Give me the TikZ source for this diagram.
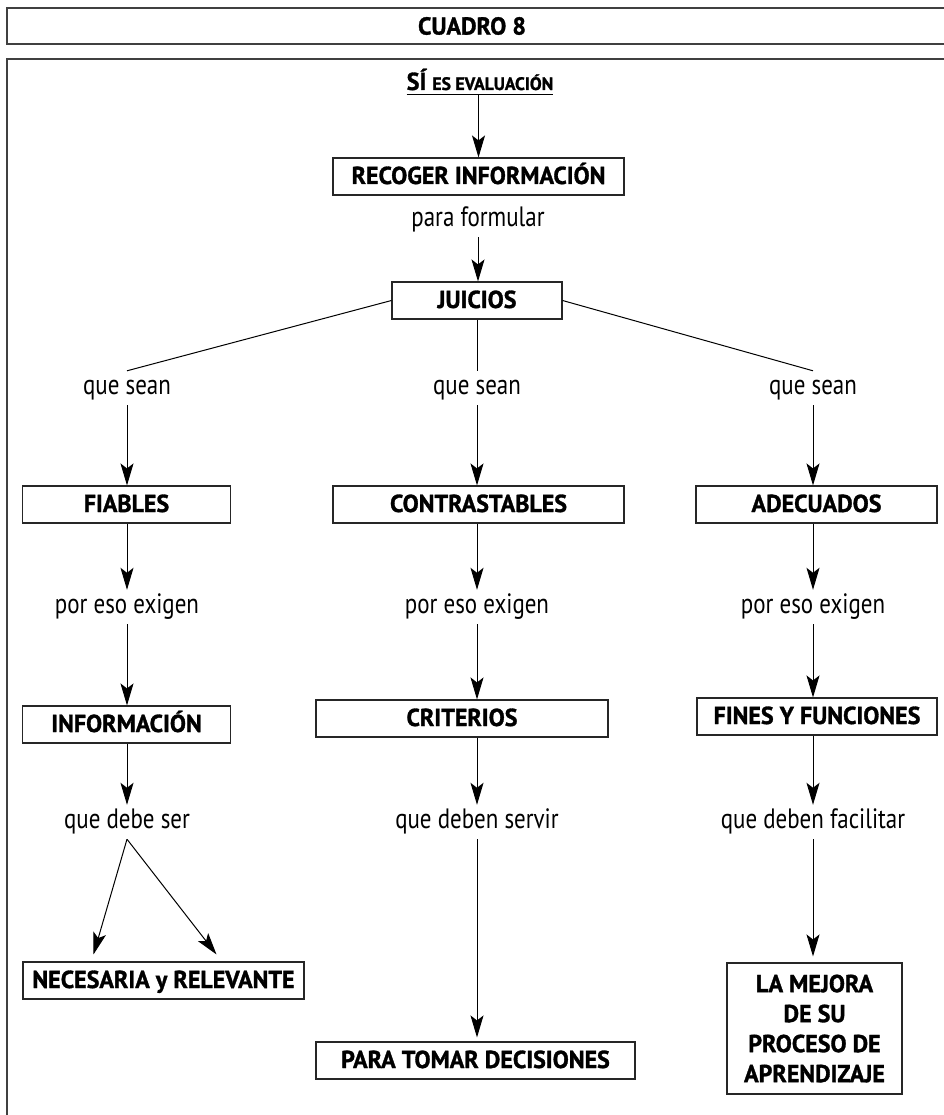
\documentclass[tikz,border=0pt]{standalone}
\usepackage{fontspec}
\setmainfont{PT Sans}[FakeStretch=0.82, BoldFeatures={FakeStretch=0.98, FakeBold=1.3}]
\usetikzlibrary{arrows.meta}

\tikzset{
  caja/.style={draw=black!85, line width=1.1pt, inner sep=0pt,
    font=\bfseries\fontsize{24.5}{30}\selectfont,
    text height=17pt, text depth=2pt, minimum height=37pt},
  etiqueta/.style={font=\fontsize{28}{30}\selectfont,
    inner xsep=2pt, inner ysep=6pt, text height=17pt, text depth=5pt},
  flecha/.style={-{Stealth[length=22pt,width=13pt,inset=5pt]}, line width=1pt},
  linea/.style={line width=1pt},
  marco/.style={draw=black!75, line width=1.3pt}
}

\begin{document}
\begin{tikzpicture}[x=1pt, y=-1pt]
  \useasboundingbox (0,0) rectangle (943,1115);

  % marcos
  \draw[marco] (7,8) rectangle (960,44);
  \draw[marco] (7,1130) -- (7,59) -- (960,59);
  \node[font=\bfseries\fontsize{24.5}{30}\selectfont] (cuadro) at (472,26) {CUADRO 8};

  % cabecera
  \node[anchor=base, inner sep=0pt, text depth=4pt,
        font=\bfseries\fontsize{24.5}{30}\selectfont] (titulo) at (480,90)
        {SÍ {\fontsize{18}{18}\selectfont ES EVALUACIÓN}};
  \draw[linea] (titulo.south west) -- (titulo.south east);

  \node[caja, minimum width=291pt] (recoger) at (478.5,176.5) {RECOGER INFORMACIÓN};
  \node[etiqueta] (para) at (478,220) {para formular};
  \node[caja, minimum width=170pt] (juicios) at (477,300.5) {JUICIOS};

  \draw[flecha] (recoger.north |- titulo.south) -- (recoger.north);
  \draw[flecha] (para.south) -- (para.south |- juicios.north);

  % que sean
  \node[etiqueta] (sean1) at (127,388) {que sean};
  \node[etiqueta] (sean2) at (477,388) {que sean};
  \node[etiqueta] (sean3) at (813,388) {que sean};
  \draw[linea] (juicios.west) -- (sean1.north);
  \draw[linea] (juicios.south) -- (sean2.north);
  \draw[linea] (juicios.east) -- (sean3.north);

  % primer nivel
  \node[caja, minimum width=208pt] (fiables) at (126.5,504.5) {FIABLES};
  \node[caja, minimum width=291pt] (contrast) at (478.5,504.5) {CONTRASTABLES};
  \node[caja, minimum width=241pt] (adecuados) at (816.5,504.5) {ADECUADOS};
  \draw[flecha] (sean1.south) -- (sean1.south |- fiables.north);
  \draw[flecha] (sean2.south) -- (sean2.south |- contrast.north);
  \draw[flecha] (sean3.south) -- (sean3.south |- adecuados.north);

  % por eso exigen
  \node[etiqueta] (exigen1) at (127,607) {por eso exigen};
  \node[etiqueta] (exigen2) at (477,607) {por eso exigen};
  \node[etiqueta] (exigen3) at (813,607) {por eso exigen};
  \draw[flecha] (exigen1.north |- fiables.south) -- (exigen1.north);
  \draw[flecha] (exigen2.north |- contrast.south) -- (exigen2.north);
  \draw[flecha] (exigen3.north |- adecuados.south) -- (exigen3.north);

  % segundo nivel
  \node[caja, minimum width=208pt] (informacion) at (126.5,724.5) {INFORMACIÓN};
  \node[caja, minimum width=292pt] (criterios) at (462,718.5) {CRITERIOS};
  \node[caja, minimum width=240pt] (fines) at (817,716.5) {FINES Y FUNCIONES};
  \draw[flecha] (exigen1.south) -- (exigen1.south |- informacion.north);
  \draw[flecha] (exigen2.south) -- (exigen2.south |- criterios.north);
  \draw[flecha] (exigen3.south) -- (exigen3.south |- fines.north);

  % que debe...
  \node[etiqueta] (debe1) at (127,822) {que debe ser};
  \node[etiqueta] (debe2) at (477,822) {que deben servir};
  \node[etiqueta] (debe3) at (813,822) {que deben facilitar};
  \draw[flecha] (debe1.north |- informacion.south) -- (debe1.north);
  \draw[flecha] (debe2.north |- criterios.south) -- (debe2.north);
  \draw[flecha] (debe3.north |- fines.south) -- (debe3.north);

  % tercer nivel
  \node[caja, minimum width=281pt] (necesaria) at (163.5,980.5) {NECESARIA y RELEVANTE};
  \node[caja, minimum width=319pt] (decisiones) at (475.5,1060.5) {PARA TOMAR DECISIONES};
  \node[caja, align=center, text height=, text depth=, minimum width=175pt,
        minimum height=131pt] (mejora) at (814.5,1028.5)
        {LA MEJORA\\DE SU\\PROCESO DE\\APRENDIZAJE};

  \draw[flecha] (debe1.south) -- ([xshift=-70pt,yshift=7pt]necesaria.north);
  \draw[flecha] (debe1.south) -- ([xshift=53pt,yshift=7pt]necesaria.north);
  \draw[flecha] (debe2.south) -- ([yshift=4pt]debe2.south |- decisiones.north);
  \draw[flecha] (debe3.south) -- ([yshift=6pt]debe3.south |- mejora.north);
\end{tikzpicture}
\end{document}
